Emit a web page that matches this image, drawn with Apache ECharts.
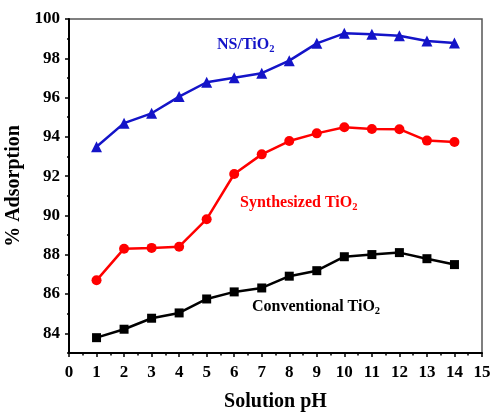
<!DOCTYPE html>
<html>
<head>
<meta charset="utf-8">
<script src="https://cdn.jsdelivr.net/npm/echarts@6/dist/echarts.min.js"></script>
<style>
  html, body { margin: 0; padding: 0; background: #fff; }
  #chart { width: 492px; height: 414px; }
</style>
</head>
<body>
<div id="chart"></div>
<script>
// Solution pH values
const phValues = [1, 2, 3, 4, 5, 6, 7, 8, 9, 10, 11, 12, 13, 14];

// % adsorption for each adsorbent
const nsTiO2 = [93.5, 94.7, 95.2, 96.05, 96.78, 97.01, 97.24, 97.88, 98.76, 99.27, 99.22, 99.15, 98.88, 98.78];
const synthesizedTiO2 = [86.7, 88.31, 88.35, 88.41, 89.81, 92.11, 93.11, 93.79, 94.18, 94.49, 94.4, 94.39, 93.81, 93.74];
const conventionalTiO2 = [83.78, 84.21, 84.77, 85.04, 85.75, 86.11, 86.31, 86.91, 87.19, 87.9, 88.01, 88.11, 87.8, 87.5];

// Labelled ticks on the adsorption axis
const yTickLabels = [84, 86, 88, 90, 92, 94, 96, 98, 100];

const FONT = '"Liberation Serif", "Times New Roman", serif';
const BLUE = '#1414c8';
const RED = '#ff0000';
const BLACK = '#000';

const pairs = (ys) => phValues.map((x, i) => [x, ys[i]]);

const chart = echarts.init(document.getElementById('chart'), null, { renderer: 'canvas' });

// In-plot series caption with a subscripted "2"
const caption = (prefix, color, x, y) => ({
  type: 'text',
  x: x,
  y: y,
  style: {
    text: '{a|' + prefix + '}{s|2}',
    rich: {
      a: { fontFamily: FONT, fontWeight: 'bold', fontSize: 16, fill: color },
      s: { fontFamily: FONT, fontWeight: 'bold', fontSize: 10.5, fill: color, padding: [9, 0, 0, 0] }
    },
    verticalAlign: 'middle'
  }
});

chart.setOption({
  animation: false,
  backgroundColor: '#fff',
  grid: {
    left: 69, right: 10, top: 19, bottom: 61,
    outerBoundsMode: 'none',
    containLabel: false,
    show: true, borderColor: '#555', borderWidth: 1.5, backgroundColor: 'transparent'
  },
  xAxis: {
    type: 'value',
    min: 0, max: 15, interval: 1,
    name: 'Solution pH',
    nameLocation: 'middle',
    nameGap: 39,
    nameTextStyle: { fontFamily: FONT, fontWeight: 'bold', fontSize: 20, color: BLACK },
    axisLine: { show: true, onZero: false, lineStyle: { color: BLACK, width: 2 } },
    axisTick: { show: true, inside: false, length: 4, lineStyle: { color: BLACK, width: 1.5 } },
    minorTick: { show: true, splitNumber: 2, length: 2.5, lineStyle: { color: BLACK, width: 1.5 } },
    axisLabel: { fontFamily: FONT, fontWeight: 'bold', fontSize: 17, color: BLACK, margin: 11 },
    splitLine: { show: false }
  },
  yAxis: [
    {
      type: 'value',
      min: 83, max: 100, interval: 1,
      axisLine: { show: true, onZero: false, lineStyle: { color: BLACK, width: 2 } },
      axisTick: { show: true, length: 2, lineStyle: { color: BLACK, width: 1.5 } },
      axisLabel: { show: false },
      splitLine: { show: false }
    },
    {
      type: 'value',
      position: 'left',
      min: 83, max: 100, interval: 1,
      name: '% Adsorption',
      nameLocation: 'middle',
      nameGap: 38,
      nameTextStyle: { fontFamily: FONT, fontWeight: 'bold', fontSize: 20, color: BLACK },
      axisLine: { show: false },
      axisTick: { show: true, length: 4, customValues: yTickLabels, lineStyle: { color: BLACK, width: 1.5 } },
      axisLabel: {
        customValues: yTickLabels,
        fontFamily: FONT, fontWeight: 'bold', fontSize: 17, color: BLACK, margin: 9
      },
      splitLine: { show: false }
    }
  ],
  series: [
    {
      name: 'NS/TiO2', type: 'line', yAxisIndex: 0,
      data: pairs(nsTiO2),
      symbol: 'triangle', symbolSize: 11,
      lineStyle: { color: BLUE, width: 2.5 },
      itemStyle: { color: BLUE }
    },
    {
      name: 'Synthesized TiO2', type: 'line', yAxisIndex: 0,
      data: pairs(synthesizedTiO2),
      symbol: 'circle', symbolSize: 10,
      lineStyle: { color: RED, width: 2.5 },
      itemStyle: { color: RED }
    },
    {
      name: 'Conventional TiO2', type: 'line', yAxisIndex: 0,
      data: pairs(conventionalTiO2),
      symbol: 'rect', symbolSize: 9,
      lineStyle: { color: BLACK, width: 2.5 },
      itemStyle: { color: BLACK }
    }
  ],
  graphic: [
    caption('NS/TiO', BLUE, 217, 45),
    caption('Synthesized TiO', RED, 240, 203),
    caption('Conventional TiO', BLACK, 252, 307)
  ]
});
</script>
</body>
</html>
